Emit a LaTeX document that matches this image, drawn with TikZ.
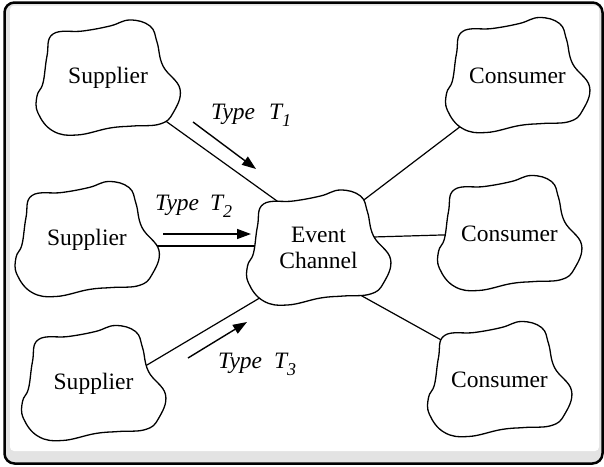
\documentclass[tikz,border=0pt]{standalone}
\usepackage{fontspec}
\setmainfont{Liberation Serif}
\usetikzlibrary{arrows.meta,calc}
\pgfdeclarelayer{bg}
\pgfsetlayers{bg,main}
\tikzset{
  cloudline/.style={draw=black, fill=white, line width=1.3pt},
  cloudtext/.style={inner sep=0pt, font=\fontsize{23.5}{26}\selectfont, align=center},
  conn/.style={draw=black, line width=1.2pt},
  flow/.style={draw=black, line width=1.4pt, -{Triangle[length=14pt,width=10pt]}},
  typelabel/.style={anchor=base west, inner sep=0pt, font=\fontsize{23.5}{26}\selectfont\itshape},
  frameout/.style={draw=black, line width=2.5pt, fill=black!11, rounded corners=10pt},
  framein/.style={fill=white, rounded corners=4pt},
}
\newcommand\mycloud[3]{%
  \path[cloudline, shift={#2}] plot[smooth cycle, tension=0.7] coordinates {(-55,-44) (-25,-47) (2,-52) (22,-58) (42,-52) (49,-36) (55,-12) (72,11) (65,35) (52,46) (25,48) (2,50) (-31,57) (-55,53) (-70,35) (-71,18) (-65,5) (-61,-22)};
  \node[cloudtext] (#1) at #2 {#3};
}
\newcommand\sub[1]{\raisebox{-7.5pt}{\fontsize{18}{18}\selectfont\itshape #1}}
\begin{document}
\begin{tikzpicture}[x=1pt,y=-1pt]
\useasboundingbox (0,0) rectangle (604,466);
\begin{pgfonlayer}{bg}
\path[frameout] (4.5,2.5) rectangle (602.5,463.5);
\path[framein] (10,5.5) rectangle (599,451);
\end{pgfonlayer}

\mycloud{sup1}{(108,78)}{Supplier}
\mycloud{sup2}{(87,239.5)}{Supplier}
\mycloud{sup3}{(93.5,383.5)}{Supplier}
\mycloud{ec}{(318.5,248)}{Event\\Channel}
\mycloud{con1}{(517.5,75.5)}{Consumer}
\mycloud{con2}{(509.5,233.5)}{Consumer}
\mycloud{con3}{(499.5,379.5)}{Consumer}

\begin{pgfonlayer}{bg}
\draw[conn] ($(sup1.center)+(0,1.6)$) -- ($(ec.center)+(0,-17.2)$);
\draw[conn] ($(sup2.center)+(0,6.5)$) -- ($(ec.center)+(0,-2)$);
\draw[conn] ($(sup3.center)+(0,13.3)$) -- ($(ec.center)+(0,15)$);
\draw[conn] ($(ec.center)+(0,-13.5)$) -- ($(con1.center)+(0,7.5)$);
\draw[conn] ($(ec.center)+(0,-9.4)$) -- ($(con2.center)+(0,-0.5)$);
\draw[conn] ($(ec.center)+(0,23.8)$) -- ($(con3.center)+(0,-7.1)$);
\end{pgfonlayer}

\coordinate (a1s) at (193,122); \coordinate (a1e) at (256,169);
\coordinate (a2s) at (163,234); \coordinate (a2e) at (251,234);
\coordinate (a3s) at (188,358); \coordinate (a3e) at (247,322);
\draw[flow] (a1s) -- (a1e);
\draw[flow] (a2s) -- (a2e);
\draw[flow] (a3s) -- (a3e);

\node[typelabel] (t1) at (211,119) {Type\hspace{14pt}T\sub{1}};
\node[typelabel] (t2) at (155,210) {Type\hspace{11pt}T\sub{2}};
\node[typelabel] (t3) at (218,368) {Type\hspace{12pt}T\sub{3}};
\end{tikzpicture}
\end{document}
